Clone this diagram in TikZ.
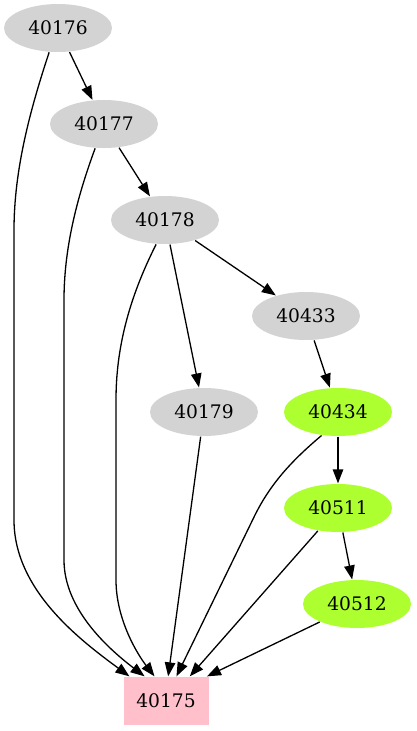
\documentclass[tikz,border=0pt]{standalone}
\usepackage{fontspec}
\setmainfont{DejaVu Serif}
\usetikzlibrary{shapes.geometric,arrows.meta}
\definecolor{nodegray}{RGB}{211,211,211}
\definecolor{nodegreen}{RGB}{173,255,47}
\definecolor{nodepink}{RGB}{255,192,203}
\begin{document}
\begin{tikzpicture}[x=1pt, y=-1pt, line width=1.3pt,
                    >={Triangle[length=14pt,width=10.5pt]},
                    main node/.style={ellipse,fill=nodegray,minimum width=108pt,minimum height=48pt,
                                      inner sep=0pt,font=\fontsize{18.67}{22}\selectfont},
                    hit node/.style={main node,fill=nodegreen},
                    root node/.style={rectangle,fill=nodepink,minimum width=85pt,minimum height=48pt,
                                      inner sep=0pt,font=\fontsize{18.67}{22}\selectfont}]
  \useasboundingbox (0,0) rectangle (417,731);

  \node[main node] (40176) at (58,28) {40176};
  \node[main node] (40177) at (104,124) {40177};
  \node[main node] (40178) at (165,220) {40178};
  \node[main node] (40433) at (306,316) {40433};
  \node[main node] (40179) at (204,412) {40179};
  \node[hit node]  (40434) at (338,412) {40434};
  \node[hit node]  (40511) at (338,508) {40511};
  \node[hit node]  (40512) at (357,604) {40512};
  \node[root node] (40175) at (166,701) {40175};

  \path[->]
    (40176) edge (40177)
    (40177) edge (40178)
    (40178) edge (40433)
    (40178) edge (40179)
    (40433) edge (40434)
    (40434) edge (40511)
    (40511) edge (40512)
    (40179) edge (40175.85)
    (40511) edge (40175.46)
    (40512) edge (40175.31);

  % long edges down to the root
  \draw[->] (40176.250) .. controls (30,110) and (14,170) .. (14,230) -- (14,520)
            .. controls (14,590) and (80,640) .. (40175.146);
  \draw[->] (40177.250) .. controls (76,200) and (64,250) .. (64,300) -- (64,560)
            .. controls (64,610) and (110,650) .. (40175.131);
  \draw[->] (40178.250) .. controls (128,300) and (116,350) .. (116,400) -- (116,580)
            .. controls (116,620) and (138,655) .. (40175.115);
  \draw[->] (40434.235) .. controls (290,462) and (270,485) .. (255,515) -- (40175.67);
\end{tikzpicture}
\end{document}
